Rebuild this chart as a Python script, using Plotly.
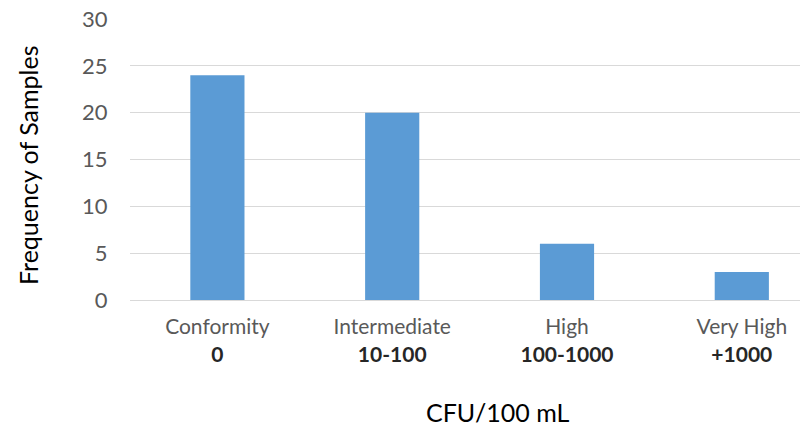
import plotly.graph_objects as go

categories = ["Conformity", "Intermediate", "High", "Very High"]
ranges = ["0", "10-100", "100-1000", "+1000"]
frequencies = [24, 20, 6, 3]
y_ticks = [0, 5, 10, 15, 20, 25, 30]

ticktext = [f"{c}<br><span style='color:#262626'><b>{r}</b></span>" for c, r in zip(categories, ranges)]
xs = list(range(len(categories)))

fig = go.Figure(go.Bar(x=xs, y=frequencies, width=0.31, marker=dict(color="#5B9BD5", line=dict(width=0))))

fig.update_layout(
    width=800, height=431,
    margin=dict(l=130, r=0, t=19, b=131),
    paper_bgcolor="white", plot_bgcolor="white",
    font=dict(family="Lato, Calibri, sans-serif", color="#595959"),
    showlegend=False,
    xaxis=dict(
        range=[-0.5, -0.5 + 670 / 174.8],
        tickmode="array", tickvals=xs, ticktext=ticktext,
        tickfont=dict(size=21, color="#595959"),
        ticks="outside", ticklen=8, tickcolor="rgba(0,0,0,0)",
        showgrid=False, zeroline=False, showline=False,
    ),
    yaxis=dict(
        range=[0, 30], tickvals=y_ticks,
        tickfont=dict(size=22, color="#595959"),
        ticks="outside", ticklen=17, tickcolor="rgba(0,0,0,0)",
        showgrid=True, gridcolor="#D9D9D9", gridwidth=1,
        zeroline=True, zerolinecolor="#D9D9D9", zerolinewidth=1,
        showline=False,
    ),
    annotations=[
        dict(text="Frequency of Samples", xref="paper", yref="paper",
             x=(28 - 130) / 670, y=(300 - 166) / 281, xanchor="center", yanchor="middle",
             textangle=-90, showarrow=False, font=dict(size=25, color="#000000")),
        dict(text="CFU/100 mL", xref="paper", yref="paper",
             x=(497 - 130) / 670, y=-(412 - 300) / 281, xanchor="center", yanchor="middle",
             showarrow=False, font=dict(size=25, color="#000000")),
    ],
)

fig.write_html("out.html", config={"displayModeBar": False},
               post_script="document.body.style.margin='0';document.body.style.overflow='hidden';")
